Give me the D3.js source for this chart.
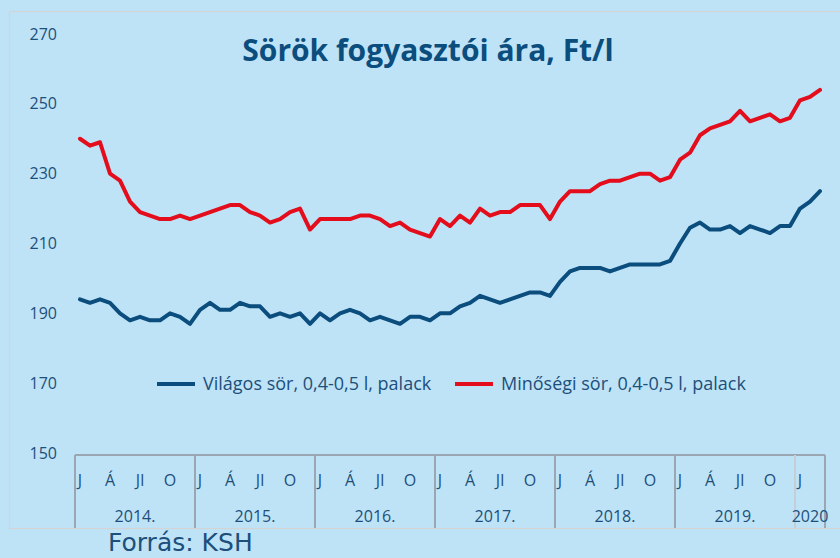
<!DOCTYPE html>
<html><head><meta charset="utf-8">
<script src="https://cdn.jsdelivr.net/npm/d3@7"></script>
<style>
html,body{margin:0;padding:0;background:#bee3f7;}
svg{display:block;font-family:"Open Sans","DejaVu Sans",sans-serif;}
</style></head>
<body>
<svg id="chart" width="840" height="558"></svg>
<script>
// ---- data ----
const years = ["2014.","2015.","2016.","2017.","2018.","2019.","2020"];
const monthsPerYear = [12,12,12,12,12,12,3];
const monthTickLabels = {0:"J",3:"Á",6:"Jl",9:"O"};
const yTicks = [150,170,190,210,230,250,270];
const seriesNames = ["Világos sör, 0,4-0,5 l, palack","Minőségi sör, 0,4-0,5 l, palack"];
const vilagos = [194,193,194,193,190,188,189,188,188,190,189,187,
                 191,193,191,191,193,192,192,189,190,189,190,187,
                 190,188,190,191,190,188,189,188,187,189,189,188,
                 190,190,192,193,195,194,193,194,195,196,196,195,
                 199,202,203,203,203,202,203,204,204,204,204,205,
                 210,214.5,216,214,214,215,213,215,214,213,215,215,
                 220,222,225];
const minosegi = [240,238,239,230,228,222,219,218,217,217,218,217,
                  218,219,220,221,221,219,218,216,217,219,220,214,
                  217,217,217,217,218,218,217,215,216,214,213,212,
                  217,215,218,216,220,218,219,219,221,221,221,217,
                  222,225,225,225,227,228,228,229,230,230,228,229,
                  234,236,241,243,244,245,248,245,246,247,245,246,
                  251,252,254];
const colors = ["#0b4d7d","#e30d1c"];

// ---- build ----
const svg = d3.select("#chart");
const W = 840, H = 558;
const textColor = "#1d4f7a";

// outer chart border
svg.append("rect").attr("x",9.5).attr("y",11.5).attr("width",W).attr("height",517)
  .attr("fill","#bee3f7").attr("stroke","#d4d4d4").attr("stroke-width",1.2);

const nMonths = d3.sum(monthsPerYear);
const idx = d3.range(nMonths);
const x = d3.scaleBand().domain(idx).range([75, 75 + 10*nMonths]).paddingInner(0).paddingOuter(0);
const y = d3.scaleLinear().domain([150,270]).range([453, 34]);
const xc = i => x(i) + x.bandwidth()/2;

// y axis
const yAxis = d3.axisLeft(y).tickValues(yTicks).tickSize(0).tickPadding(0);
const gy = svg.append("g").attr("transform","translate(57,0)").call(yAxis);
gy.select(".domain").remove();
gy.selectAll("text").attr("fill",textColor).style("font-size","16px")
  .style("font-family","'Open Sans',sans-serif");

// category box
const boxTop = 455, boxBot = 528;
svg.append("line").attr("x1",x(0)).attr("x2",x(nMonths-1)+x.bandwidth())
  .attr("y1",boxTop).attr("y2",boxTop).attr("stroke","#9aa6b1").attr("stroke-width",2);
let start = 0;
const yearStarts = [];
monthsPerYear.forEach((m,k)=>{ yearStarts.push(start); start += m; });
yearStarts.forEach((s,k)=>{
  svg.append("line").attr("x1",x(s)).attr("x2",x(s)).attr("y1",boxTop).attr("y2",boxBot)
    .attr("stroke", k===6 ? "#c4ced6" : "#9aa6b1").attr("stroke-width",2);
});
svg.append("line").attr("x1",x(nMonths-1)+x.bandwidth()).attr("x2",x(nMonths-1)+x.bandwidth())
  .attr("y1",boxTop).attr("y2",boxBot).attr("stroke","#9aa6b1").attr("stroke-width",2);

// month labels
yearStarts.forEach((s,k)=>{
  for(let m=0;m<monthsPerYear[k];m++){
    if(monthTickLabels[m]!==undefined){
      svg.append("text").attr("x",xc(s+m)).attr("y",486).attr("text-anchor","middle")
        .attr("fill",textColor).style("font-size","16px").text(monthTickLabels[m]);
    }
  }
  const x0 = x(s), x1 = x(s+monthsPerYear[k]-1)+x.bandwidth();
  svg.append("text").attr("x",(x0+x1)/2).attr("y",522).attr("text-anchor","middle")
    .attr("fill",textColor).style("font-size","16px").text(years[k]);
});

// lines
const line = d3.line().x((d,i)=>xc(i)).y(d=>y(d));
[vilagos, minosegi].forEach((s,k)=>{
  svg.append("path").datum(s).attr("d",line).attr("fill","none")
    .attr("stroke",colors[k]).attr("stroke-width",4).attr("stroke-linejoin","round").attr("stroke-linecap","round");
});

// title
svg.append("text").attr("x",428).attr("y",61).attr("text-anchor","middle")
  .attr("fill","#0b4d7d").style("font-weight","700").style("font-size","30px")
  .style("font-family","'Open Sans',sans-serif").text("Sörök fogyasztói ára, Ft/l");

// legend
const legendItems = [{x:157, name:seriesNames[0], c:colors[0]},{x:455, name:seriesNames[1], c:colors[1]}];
legendItems.forEach(d=>{
  svg.append("line").attr("x1",d.x).attr("x2",d.x+38).attr("y1",384).attr("y2",384)
    .attr("stroke",d.c).attr("stroke-width",4);
  svg.append("text").attr("x",d.x+46).attr("y",390).attr("fill",textColor)
    .style("font-size","18px").text(d.name);
});

// source
svg.append("text").attr("x",108).attr("y",551).attr("fill","#1d4f7a")
  .style("font-family","'DejaVu Sans',sans-serif")
  .style("font-size","25px").text("Forrás: KSH");
</script>
</body></html>
